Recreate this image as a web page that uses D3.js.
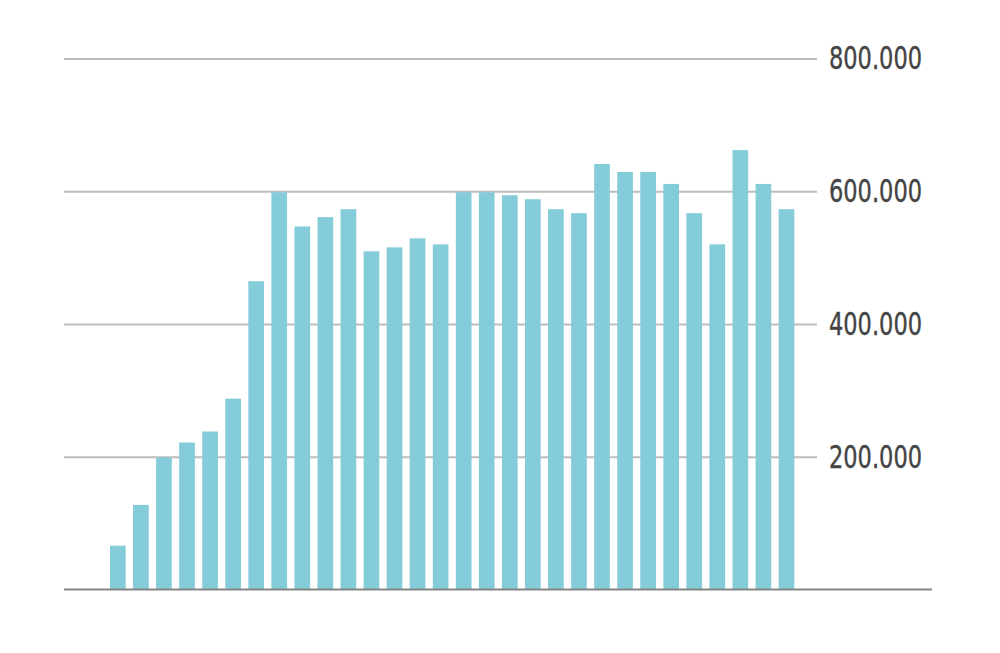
<!DOCTYPE html>
<html>
<head>
<meta charset="utf-8">
<script src="https://cdn.jsdelivr.net/npm/d3@7"></script>
<style>
  body { margin: 0; background: #fff; }
  .axis text { font-family: "Liberation Sans Narrow", "DejaVu Sans Condensed", "Roboto", sans-serif; fill: #444; }
</style>
</head>
<body>
<div id="chart"></div>
<script>
// values
var categories = d3.range(1, 31).map(function(i) { return "c" + i; });
var values = [66000, 127500, 199000, 221500, 238000, 287500, 464500, 598500, 547000, 561000,
              573000, 509500, 515500, 529000, 520000, 598500, 598500, 594000, 588000, 573000,
              567000, 641000, 629000, 629000, 611000, 567000, 520000, 662000, 611000, 573000];
var tickValues = [200000, 400000, 600000, 800000];

var width = 1000, height = 653;
var plot_left = 64, grid_right = 817, base_right = 932;
var plot_top = 58.5, plot_bottom = 589.5;

var svg = d3.select("#chart").append("svg")
    .attr("width", width)
    .attr("height", height);

var x = d3.scaleBand()
    .domain(categories)
    .range([110, 794.3])
    .paddingInner(0.32)
    .paddingOuter(0);

var y = d3.scaleLinear()
    .domain([0, 800000])
    .range([plot_bottom, plot_top]);

var locale = d3.formatLocale({ decimal: ",", thousands: ".", grouping: [3], currency: ["", "€"] });
var fmt = locale.format(",d");

// gridlines + labels
var axis = svg.append("g")
    .attr("class", "axis")
    .attr("transform", "translate(" + grid_right + ",0)")
    .call(d3.axisRight(y)
        .tickValues(tickValues)
        .tickSize(-(grid_right - plot_left))
        .tickPadding(12)
        .tickFormat(fmt));
axis.select(".domain").remove();
axis.selectAll(".tick line")
    .attr("stroke", "#bdbdbd")
    .attr("stroke-width", 2);
axis.selectAll(".tick text")
    .attr("font-size", 32)
    .attr("dy", "0.32em")
    .attr("textLength", 93)
    .attr("lengthAdjust", "spacingAndGlyphs")
    .attr("stroke", "#444")
    .attr("stroke-width", 0.4);

// bars
svg.append("g").selectAll("rect")
    .data(values)
    .enter()
    .append("rect")
    .attr("x", function(d, i) { return x(categories[i]); })
    .attr("y", function(d) { return y(d); })
    .attr("width", x.bandwidth())
    .attr("height", function(d) { return plot_bottom - y(d); })
    .attr("fill", "#84ccd9");

// baseline
svg.append("line")
    .attr("x1", plot_left)
    .attr("x2", base_right)
    .attr("y1", plot_bottom)
    .attr("y2", plot_bottom)
    .attr("stroke", "#858585")
    .attr("stroke-width", 2);
</script>
</body>
</html>
